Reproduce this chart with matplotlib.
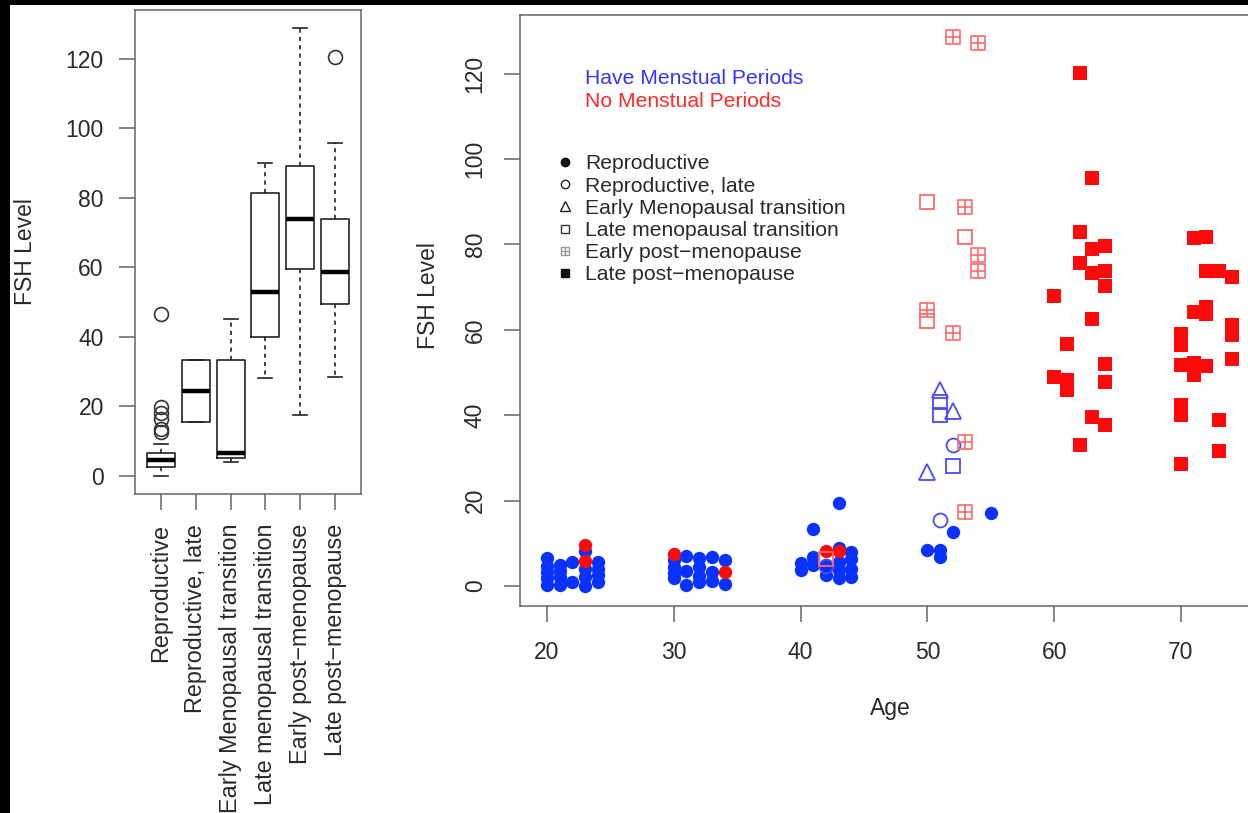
import matplotlib
matplotlib.use("Agg")
import matplotlib.pyplot as plt
from matplotlib.lines import Line2D
from matplotlib.path import Path
from matplotlib.patches import Rectangle

plt.rcParams['font.family'] = ['Liberation Sans', 'DejaVu Sans']

# boxplot: FSH level by stage
stages = ['Reproductive', 'Reproductive, late', 'Early Menopausal transition',
          'Late menopausal transition', 'Early post\u2212menopause', 'Late post\u2212menopause']
box_whislo = [0.0, 15.4, 4.1, 28.3, 17.6, 28.6]
box_q1 = [2.5, 15.4, 5.3, 39.9, 59.5, 49.4]
box_med = [4.6, 24.5, 6.7, 52.8, 74.0, 58.6]
box_q3 = [6.5, 33.4, 33.4, 81.5, 89.2, 73.9]
box_whishi = [9.1, 33.4, 45.2, 90.0, 128.8, 95.9]
box_fliers = [[12.7, 13.4, 16.5, 18.2, 19.8, 46.5], [], [], [], [], [120.5]]

# scatter: FSH level by age
# reproductive, have periods (blue dots)
rep_have_age = [20, 20, 20, 20, 20, 21, 21, 21, 21, 22, 22, 23, 23, 23, 23, 24, 24, 24, 24,
                30, 30, 30, 30, 31, 31, 31, 32, 32, 32, 32, 33, 33, 33, 34, 34,
                40, 40, 41, 41, 41, 42, 42, 43, 43, 43, 43, 43, 44, 44, 44, 44,
                50, 51, 51, 52, 55]
rep_have_fsh = [6.5, 4.8, 3.2, 1.8, 0.3, 5.0, 3.5, 2.0, 0.3, 5.6, 0.9, 8.3, 4.0, 2.2, 0.0, 5.7, 4.1, 2.6, 1.0,
                6.1, 4.5, 3.0, 1.8, 7.0, 3.4, 0.2, 6.5, 4.5, 2.3, 1.0, 6.8, 3.3, 1.1, 6.0, 0.5,
                5.5, 3.8, 13.4, 6.7, 4.9, 4.8, 2.6, 19.4, 9.0, 5.7, 3.7, 1.8, 8.0, 6.3, 4.0, 2.0,
                8.4, 8.4, 6.9, 12.7, 17.2]
# reproductive, no periods (red dots)
rep_no_age = [23, 23, 30, 34, 42, 43]
rep_no_fsh = [9.6, 5.9, 7.5, 3.3, 8.2, 8.3]
# reproductive late (open circles)
rep_late_age = [42, 51, 52]
rep_late_fsh = [4.6, 15.4, 33.1]
# early menopausal transition (open triangles)
early_tr_age = [50, 51, 52]
early_tr_fsh = [26.8, 45.8, 41.0]
# late menopausal transition (open squares)
late_tr_have_age = [51, 51, 52]
late_tr_have_fsh = [43.0, 40.0, 28.2]
late_tr_no_age = [50, 53, 50, 42]
late_tr_no_fsh = [89.8, 81.7, 62.1, 6.3]
# early post-menopause (square plus)
early_post_age = [52, 54, 53, 54, 54, 50, 52, 53, 53]
early_post_fsh = [128.5, 127.1, 88.7, 77.5, 73.8, 64.6, 59.3, 33.8, 17.4]
# late post-menopause (filled squares)
late_post_age = [60, 60, 61, 61, 61, 62, 62, 62, 62, 63, 63, 63, 63, 63, 64, 64, 64, 64, 64, 64,
                 70, 70, 70, 70, 70, 70, 71, 71, 71, 71, 72, 72, 72, 72, 72, 73, 73, 73, 74, 74, 74, 74]
late_post_fsh = [68.0, 49.0, 56.7, 48.2, 45.9, 120.2, 82.8, 75.6, 33.0, 95.6, 78.8, 73.4, 62.5, 39.5,
                 79.6, 73.8, 70.3, 51.9, 47.8, 37.7,
                 59.0, 56.5, 51.8, 42.5, 40.0, 28.6, 81.4, 64.2, 52.2, 49.4, 81.7, 73.8, 65.3, 63.8, 51.5,
                 73.8, 38.9, 31.7, 72.4, 61.1, 58.8, 53.2]

legend_labels = ['Reproductive', 'Reproductive, late', 'Early Menopausal transition',
                 'Late menopausal transition', 'Early post\u2212menopause', 'Late post\u2212menopause']

BLUE = '#0a32ff'
RED = '#ff0a0a'
LBLUE = '#4a4aff'
LRED = '#ff6a6a'
TXT = '#2a2a2a'
SPINE = '#666666'

# square with a cross (R pch 12)
sqplus = Path([(-1, -1), (1, -1), (1, 1), (-1, 1), (-1, -1), (0, -1), (0, 1), (-1, 0), (1, 0)],
              [Path.MOVETO, Path.LINETO, Path.LINETO, Path.LINETO, Path.CLOSEPOLY,
               Path.MOVETO, Path.LINETO, Path.MOVETO, Path.LINETO])

fig = plt.figure(figsize=(12.48, 8.13), dpi=100, facecolor='black')
fig.patches.append(Rectangle((10 / 1248, 0), 1, 808 / 813, transform=fig.transFigure,
                             facecolor='white', edgecolor='none', zorder=-5))

# ---- left: boxplot
ax1 = fig.add_axes([135 / 1248, 319 / 813, 226 / 1248, 484 / 813])
stats = []
for i in range(len(stages)):
    stats.append(dict(med=box_med[i], q1=box_q1[i], q3=box_q3[i],
                      whislo=box_whislo[i], whishi=box_whishi[i], fliers=box_fliers[i]))
ax1.bxp(stats, positions=range(1, 7), widths=0.8, capwidths=0.4, manage_ticks=False,
        boxprops=dict(color='#222222', lw=1.2),
        medianprops=dict(color='black', lw=3.2, solid_capstyle='butt'),
        whiskerprops=dict(color='#222222', lw=1.2, linestyle=(0, (2.5, 2.5))),
        capprops=dict(color='#222222', lw=1.2),
        flierprops=dict(marker='o', mfc='none', mec='#333333', ms=10, mew=1.2))
ax1.set_xlim(0.26, 6.74)
ax1.set_ylim(-5.2, 134.1)
ax1.set_xticks(range(1, 7))
ax1.set_xticklabels(stages, rotation=90)
ax1.set_yticks([0, 20, 40, 60, 80, 100, 120])
ax1.set_ylabel('FSH Level', fontsize=16.5, color=TXT)
ax1.yaxis.set_label_coords(-0.432, 0.5)

# ---- right: scatter
ax2 = fig.add_axes([520 / 1248, 207 / 813, 737 / 1248, 591 / 813])
ax2.plot(rep_have_age, rep_have_fsh, 'o', color=BLUE, ms=9.6, mew=0)
ax2.plot(rep_no_age, rep_no_fsh, 'o', color=RED, ms=9.6, mew=0)
ax2.plot(rep_late_age, rep_late_fsh, 'o', mfc='none', mec=LBLUE, ms=10, mew=1.3)
ax2.plot(early_tr_age, early_tr_fsh, '^', mfc='none', mec=LBLUE, ms=11, mew=1.3)
ax2.plot(late_tr_have_age, late_tr_have_fsh, 's', mfc='none', mec=LBLUE, ms=9.5, mew=1.3)
ax2.plot(late_tr_no_age, late_tr_no_fsh, 's', mfc='none', mec=LRED, ms=9.5, mew=1.3)
ax2.plot(early_post_age, early_post_fsh, marker=sqplus, ls='none', mfc='none', mec=LRED, ms=10, mew=1.2)
ax2.plot(late_post_age, late_post_fsh, 's', color=RED, ms=9.4, mew=0)
ax2.set_xlim(17.87, 76.0)
ax2.set_ylim(-4.68, 133.7)
ax2.set_xticks([20, 30, 40, 50, 60, 70])
ax2.set_yticks([0, 20, 40, 60, 80, 100, 120])
ax2.tick_params(axis='y', labelrotation=90)
for lab in ax2.get_yticklabels():
    lab.set_va('center')
ax2.set_xlabel('Age', fontsize=16.5, color=TXT)
ax2.xaxis.set_label_coords(0.502, -0.1726)
ax2.xaxis.label.set_va('center')
ax2.set_ylabel('FSH Level', fontsize=16.5, color=TXT)
ax2.yaxis.set_label_coords(-0.108, 0.525)

ax2.text(0.088, 0.892, 'Have Menstual Periods', transform=ax2.transAxes, color='#3535ff',
         fontsize=15.2, va='center', ha='left')
ax2.text(0.088, 0.853, 'No Menstual Periods', transform=ax2.transAxes, color='#ff2a2a',
         fontsize=15.2, va='center', ha='left')

handles = [Line2D([], [], ls='none', marker='o', color='#111111', ms=6),
           Line2D([], [], ls='none', marker='o', mfc='none', mec='#222222', ms=6, mew=1),
           Line2D([], [], ls='none', marker='^', mfc='none', mec='#222222', ms=7, mew=1),
           Line2D([], [], ls='none', marker='s', mfc='none', mec='#333333', ms=6, mew=1),
           Line2D([], [], ls='none', marker=sqplus, mfc='none', mec='#999999', ms=6, mew=1),
           Line2D([], [], ls='none', marker='s', color='#111111', ms=6)]
ax2.legend(handles, legend_labels, loc='upper left', bbox_to_anchor=(0.05, 0.764),
           frameon=False, fontsize=15.2, labelspacing=0.15, handlelength=0.8,
           handletextpad=0.55, borderpad=0, borderaxespad=0, labelcolor=TXT)

for ax in (ax1, ax2):
    for sp in ax.spines.values():
        sp.set_color(SPINE)
        sp.set_linewidth(1.1)
    ax.tick_params(length=11.5, width=1.1, color=SPINE, labelsize=16.5, labelcolor=TXT)
ax1.tick_params(axis='x', labelsize=16.8, pad=10)
ax1.tick_params(axis='y', pad=11)
ax2.tick_params(axis='y', pad=12.5)
ax2.tick_params(axis='x', pad=14)

fig.savefig('out.png', dpi=100, facecolor='black')
